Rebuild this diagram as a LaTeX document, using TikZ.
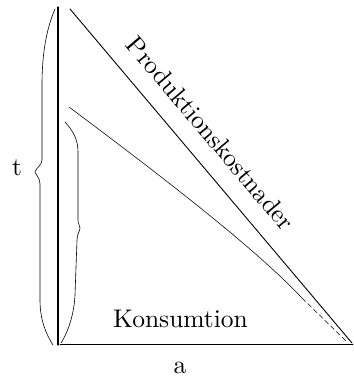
\documentclass[tikz,border=0pt]{standalone}
\usepackage{fontspec}
\setmainfont{lmroman10-regular.otf}
\begin{document}
\begin{tikzpicture}[x=1pt,y=-1pt,
  axis/.style={line width=1.2pt,line cap=round},
  curveline/.style={line width=0.9pt,line cap=round},
  thinline/.style={line width=0.55pt,line cap=round},
  bracel/.style={line width=0.6pt},
  lbl/.style={inner sep=0pt,font=\fontsize{25.5}{29}\selectfont}]
\useasboundingbox (0,0) rectangle (353,377);
% coordinates
\coordinate (vtop) at (58,7);
\coordinate (vbot) at (58,345);
\coordinate (hleft) at (60,344);
\coordinate (hright) at (353,344);
\coordinate (ptop) at (70,9);
\coordinate (pend) at (352,343);
\coordinate (ktop) at (69,107);
\coordinate (kmid) at (302,298);
\coordinate (kend) at (346,341);
% axes
\draw[axis] (vtop) -- (vbot);
\draw[curveline] (hleft) -- (hright);
% Produktionskostnader line
\draw[curveline] (ptop) -- (pend);
% Konsumtion curve
\draw[thinline] (ktop) .. controls (160,175) and (255,248) .. (kmid);
\draw[thinline,dash pattern=on 5pt off 3pt] (kmid) -- (kend);
% left brace (t)
\draw[bracel] (55,9) .. controls (46,30) and (42,55) .. (42,85)
  -- (42,160) .. controls (42,165) and (36,168) .. (35,172)
  .. controls (36,175) and (40,178) .. (40,184)
  -- (40,300) .. controls (40,320) and (46,334) .. (53,345);
% inner brace
\draw[bracel] (65,122) .. controls (72,130) and (78,138) .. (78,152)
  -- (78,220) .. controls (78,224) and (80,226) .. (80,228)
  .. controls (80,231) and (77,234) .. (77,240)
  -- (75,295) .. controls (74,315) and (68,332) .. (61,343);
% labels
\node[lbl,anchor=base] (t) at (17,175) {t};
\node[lbl,anchor=base] (a) at (180,373) {a};
\node[lbl,anchor=base] (kons) at (180.5,327) {Konsumtion};
\node[lbl,anchor=base,rotate=-49.7] (prod) at (204,139) {Produktionskostnader};
\end{tikzpicture}
\end{document}
